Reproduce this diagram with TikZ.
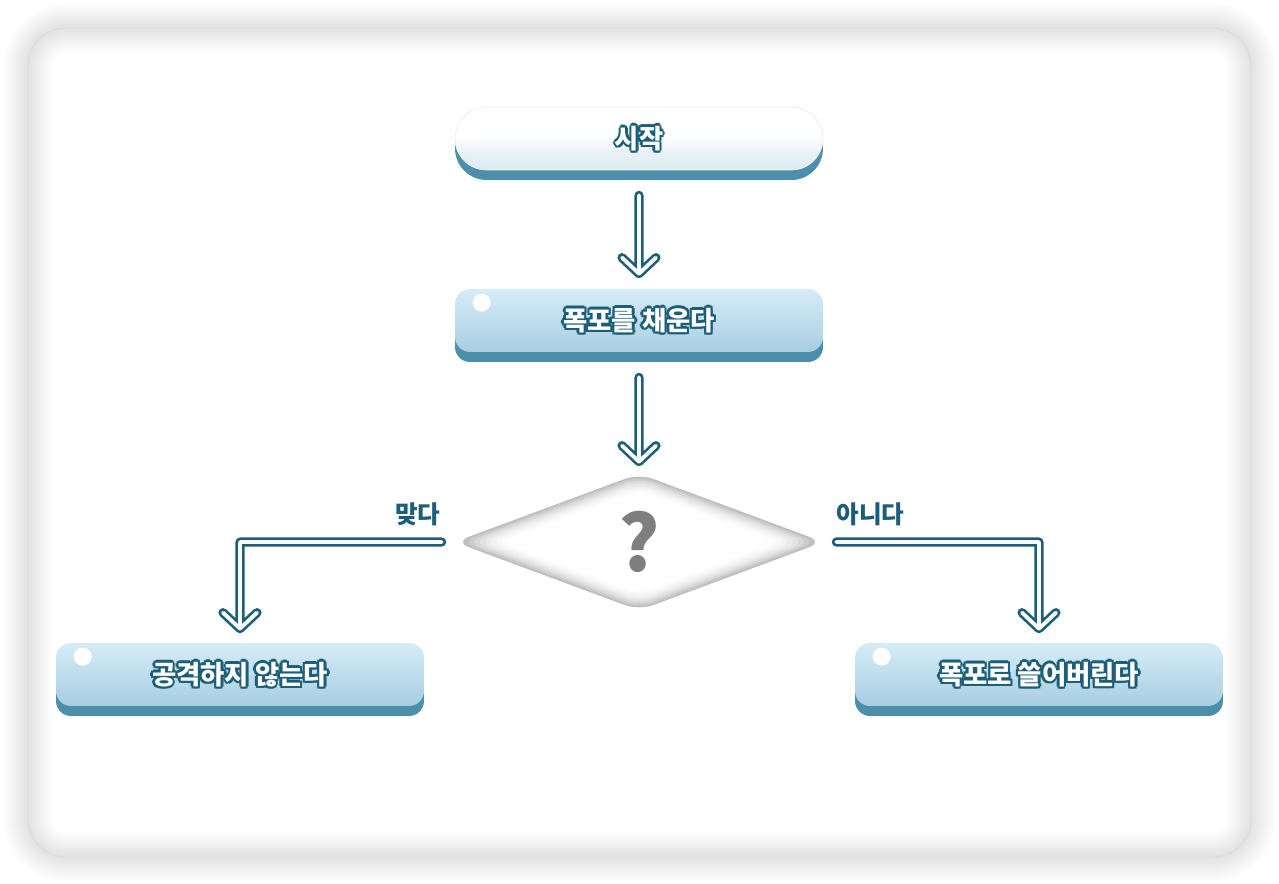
\documentclass[tikz,border=0pt]{standalone}
\usepackage{fontspec}
\newfontfamily\kr{Noto Sans CJK KR}
\usetikzlibrary{positioning, calc, shapes.geometric, shapes.misc, shadows}

\definecolor{rim}{HTML}{1C5E78}
\definecolor{under}{HTML}{4E8EAD}
\definecolor{facetop}{HTML}{D6ECF7}
\definecolor{facebot}{HTML}{A7CEE1}
\definecolor{startbot}{HTML}{CFE1EA}
\definecolor{askgray}{HTML}{7F7F7F}
\definecolor{slate}{HTML}{5A6770}

% outlined white lettering
\newcommand\rimat[3]{\rlap{\kern#1\raisebox{#2}{\textcolor{rim}{#3}}}}
\newcommand\rimtext[1]{\rimat{1.4pt}{0pt}{#1}\rimat{-1.4pt}{0pt}{#1}%
  \rimat{0pt}{1.4pt}{#1}\rimat{0pt}{-1.4pt}{#1}\rimat{1pt}{1pt}{#1}%
  \rimat{-1pt}{1pt}{#1}\rimat{1pt}{-1pt}{#1}\rimat{-1pt}{-1pt}{#1}%
  \textcolor{white}{#1}}

\pgfdeclareverticalshading{startshade}{100bp}{color(0bp)=(startbot); color(38bp)=(startbot!50!white);
  color(52bp)=(white); color(100bp)=(white)}

\begin{document}
\begin{tikzpicture}[x=0.02cm, y=-0.02cm,
    every node/.style={align=center},
    slab/.style={minimum width=7.36cm, minimum height=1.26cm, inner sep=0pt,
      font=\kr\bfseries\fontsize{15}{18}\selectfont,
      drop shadow={opacity=1, fill=under, shadow xshift=0cm, shadow yshift=-0.2cm}},
    startbox/.style={slab, rounded rectangle, shading=startshade, draw=black!7, line width=0.4pt},
    stepbox/.style={slab, rectangle, rounded corners=0.3cm, top color=facetop, bottom color=facebot},
    ask/.style={diamond, minimum width=7.36cm, minimum height=2.72cm, inner sep=0pt},
    answer/.style={font=\kr\bfseries\fontsize{14}{16}\selectfont, text=rim, inner sep=0pt},
    pipe/.style={preaction={draw=rim, line width=5.2pt, line cap=round, line join=round},
      draw=white, line width=2.2pt, line cap=round, line join=round},
]

\useasboundingbox (0,0) rectangle (1279,884);

% frame
\fill[white] (0,0) rectangle (1279,884);
\foreach \w in {1,...,14}
  \draw[slate, opacity=0.012, line width=\w*2pt, rounded corners=0.76cm] (28,28) rectangle (1251,857);
\draw[black!14, line width=0.5pt, rounded corners=0.76cm] (28,28) rectangle (1251,857);

% steps
\node[startbox] (start) at (639,138.5) {\rimtext{시작}};
\node[stepbox] (fill) at (639,320.5) {\rimtext{폭포를 채운다}};
\fill[white] ($(fill.north west)+(27,14)$) circle (0.18cm);

\node[ask] (ask) at (639,542) {};
\foreach \s/\g in {1/25,0.97/20,0.94/15,0.91/11,0.88/8,0.85/5,0.82/3,0.79/1.5,0.76/0.5,0.73/0}
  \fill[black!\g, rounded corners=0.3cm] ($(ask.center)!\s!(ask.west)$) -- ($(ask.center)!\s!(ask.north)$)
    -- ($(ask.center)!\s!(ask.east)$) -- ($(ask.center)!\s!(ask.south)$) -- cycle;
\node[font=\kr\bfseries\fontsize{44}{44}\selectfont, text=askgray] (qmark) at (ask.center) {?};

\node[stepbox] (no) at (240,674.5) {\rimtext{공격하지 않는다}};
\fill[white] ($(no.north west)+(27,14)$) circle (0.18cm);
\node[stepbox] (yes) at (1039,674.5) {\rimtext{폭포로 쓸어버린다}};
\fill[white] ($(yes.north west)+(27,14)$) circle (0.18cm);

% answers
\node[answer, anchor=east] (ltrue) at ($(ask.west)+(-14,-28)$) {맞다};
\node[answer, anchor=west] (lfalse) at ($(ask.east)+(13,-28)$) {아니다};

% arrows
\draw[pipe] ($(start.south)+(0,25)$) -- ($(fill.north)+(0,-15)$) coordinate (t1)
  ($(t1)+(-17,-16)$) -- (t1) -- ($(t1)+(17,-16)$);
\draw[pipe] ($(fill.south)+(0,25)$) -- ($(ask.north)+(0,-12)$) coordinate (t2)
  ($(t2)+(-17,-16)$) -- (t2) -- ($(t2)+(17,-16)$);
\draw[pipe] ($(ask.west)+(-13,0)$) -| ($(no.north)+(0,-14)$) coordinate (t3)
  ($(t3)+(-17,-16)$) -- (t3) -- ($(t3)+(17,-16)$);
\draw[pipe] ($(ask.east)+(13,0)$) -| ($(yes.north)+(0,-14)$) coordinate (t4)
  ($(t4)+(-17,-16)$) -- (t4) -- ($(t4)+(17,-16)$);

\end{tikzpicture}
\end{document}
